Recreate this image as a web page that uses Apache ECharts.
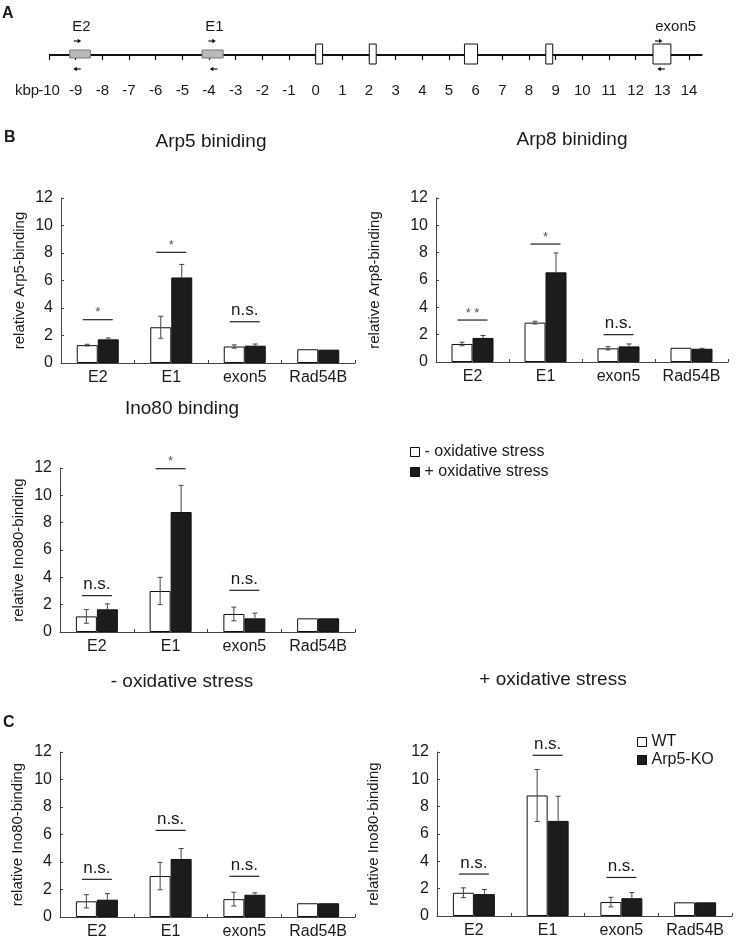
<!DOCTYPE html>
<html>
<head>
<meta charset="utf-8">
<script src="https://cdn.jsdelivr.net/npm/echarts/dist/echarts.min.js"></script>
<style>
  html, body { margin: 0; padding: 0; background: #fff; }
  #main { width: 736px; height: 943px; }
</style>
</head>
<body>
<div id="main"></div>
<script>
// ---- panel A: gene map (kbp) ----
let kbpMin = -10
let kbpMax = 14
let lineEnd = 14.5
let probeBoxes = [[-9.22, -8.45], [-4.26, -3.47]]
let exonBoxes = [[0.0, 0.26], [2.01, 2.27], [5.58, 6.07], [8.63, 8.89], [12.65, 13.32]]
let primerNames = ['E2', 'E1', 'exon5']
let primerFwd = [-9.0, -3.95, 12.8]
let primerRev = [-8.92, -3.8, 12.98]
let primerLabelAt = [-8.78, -3.8, 13.5]

// ---- panels B / C ----
let categories = ['E2', 'E1', 'exon5', 'Rad54B']
let yMax = 12
let yStep = 2

// Arp5 binding
let arp5Minus = [1.3, 2.6, 1.2, 1.0]
let arp5MinusErr = [0.06, 0.8, 0.12, 0]
let arp5Plus = [1.72, 6.22, 1.26, 0.97]
let arp5PlusErr = [0.1, 0.95, 0.12, 0]
let arp5Sig = [[0, 3.15, '*'], [1, 8.05, '*'], [2, 3.0, 'n.s.']]

// Arp8 binding
let arp8Minus = [1.32, 2.88, 1.0, 1.04]
let arp8MinusErr = [0.13, 0.1, 0.12, 0]
let arp8Plus = [1.76, 6.56, 1.14, 0.97]
let arp8PlusErr = [0.18, 1.42, 0.18, 0.03]
let arp8Sig = [[0, 3.07, '* *'], [1, 8.63, '*'], [2, 2.0, 'n.s.']]

// Ino80 binding
let ino80Minus = [1.14, 3.0, 1.32, 1.0]
let ino80MinusErr = [0.5, 1.0, 0.5, 0]
let ino80Plus = [1.66, 8.78, 1.0, 1.0]
let ino80PlusErr = [0.4, 1.95, 0.38, 0]
let ino80Sig = [[0, 2.66, 'n.s.'], [1, 11.95, '*'], [2, 3.05, 'n.s.']]

// C: - oxidative stress
let minusWT = [1.14, 2.98, 1.3, 1.0]
let minusWTErr = [0.48, 1.0, 0.5, 0]
let minusKO = [1.26, 4.22, 1.62, 1.0]
let minusKOErr = [0.44, 0.76, 0.14, 0]
let minusSig = [[0, 2.74, 'n.s.'], [1, 6.3, 'n.s.'], [2, 2.96, 'n.s.']]

// C: + oxidative stress
let plusWT = [1.7, 8.82, 1.02, 1.0]
let plusWTErr = [0.36, 1.9, 0.35, 0]
let plusKO = [1.6, 6.96, 1.3, 1.0]
let plusKOErr = [0.34, 1.8, 0.42, 0]
let plusSig = [[0, 3.07, 'n.s.'], [1, 11.76, 'n.s.'], [2, 2.82, 'n.s.']]

let stressNames = ['- oxidative stress', '+ oxidative stress']
let strainNames = ['WT', 'Arp5-KO']

let font = 'Liberation Sans, Arial, sans-serif'
let ink = '#1a1a1a'
let axisInk = '#444'

let chart = echarts.init(document.getElementById('main'), null, { renderer: 'canvas' })

// gene map pieces
let renderGeneLine = (params, api) => {
  let a = api.coord([api.value(0), 0])
  let b = api.coord([api.value(1), 0])
  return { type: 'line', shape: { x1: a[0], y1: a[1], x2: b[0], y2: b[1] }, style: { stroke: '#111', lineWidth: 2 } }
}

let renderBox = (params, api) => {
  let a = api.coord([api.value(0), 0])
  let b = api.coord([api.value(1), 0])
  let grey = api.value(2) === 0
  let h = grey ? 8 : 20
  return {
    type: 'rect',
    shape: { x: a[0], y: a[1] - h / 2 - 1, width: b[0] - a[0], height: h },
    style: grey ? { fill: '#b9b9b9', stroke: '#777', lineWidth: 1 } : { fill: '#fff', stroke: '#111', lineWidth: 1 }
  }
}

let arrow = (x, y, dir) => {
  let len = 6
  let x2 = x + dir * len
  return [
    { type: 'line', shape: { x1: x, y1: y, x2: x2, y2: y }, style: { stroke: '#111', lineWidth: 1.2 } },
    { type: 'polygon', shape: { points: [[x2 + dir * 1.5, y], [x2 - dir * 2, y - 2.2], [x2 - dir * 2, y + 2.2]] }, style: { fill: '#111' } }
  ]
}

let renderPrimer = (params, api) => {
  let f = api.coord([api.value(0), 0])
  let r = api.coord([api.value(1), 0])
  let l = api.coord([api.value(2), 0])
  let children = []
  children = children.concat(arrow(f[0] - 2, f[1] - 14, 1))
  children = children.concat(arrow(r[0] + 3, r[1] + 14, -1))
  children.push({
    type: 'text',
    style: { text: primerNames[params.dataIndex], x: l[0], y: l[1] - 28, align: 'center', verticalAlign: 'middle', font: '15px ' + font, fill: ink }
  })
  return { type: 'group', children: children }
}

// error bars: [category, value, err, side]
let renderErr = (params, api) => {
  let e = api.value(2)
  if (!e) return
  let side = api.value(3)
  let v = api.value(1)
  let top = api.coord([api.value(0), v + e])
  let bot = api.coord([api.value(0), side < 0 ? v - e : v])
  let x = top[0] + side * 10.5
  let st = { stroke: '#444', lineWidth: 1 }
  let kids = [
    { type: 'line', shape: { x1: x, y1: top[1], x2: x, y2: bot[1] }, style: st },
    { type: 'line', shape: { x1: x - 2.5, y1: top[1], x2: x + 2.5, y2: top[1] }, style: st }
  ]
  if (side < 0) kids.push({ type: 'line', shape: { x1: x - 2.5, y1: bot[1], x2: x + 2.5, y2: bot[1] }, style: st })
  return { type: 'group', children: kids }
}

let makeSig = (sig) => (params, api) => {
  let p = api.coord([api.value(0), api.value(1)])
  let label = sig[params.dataIndex][2]
  let star = label !== 'n.s.'
  return {
    type: 'group',
    children: [
      { type: 'line', shape: { x1: p[0] - 15, y1: p[1], x2: p[0] + 15, y2: p[1] }, style: { stroke: '#222', lineWidth: 1.2 } },
      {
        type: 'text',
        style: {
          text: label, x: p[0], y: star ? p[1] - 7 : p[1] - 11, align: 'center', verticalAlign: 'middle',
          font: (star ? '13px ' : '17px ') + font, fill: star ? '#555' : ink
        }
      }
    ]
  }
}

let panelSeries = (g, names, minus, minusErr, plus, plusErr, sig) => {
  let errData = []
  minus.forEach((v, i) => errData.push([i, v, minusErr[i], -1]))
  plus.forEach((v, i) => errData.push([i, v, plusErr[i], 1]))
  return [
    {
      name: names[0], type: 'bar', xAxisIndex: g, yAxisIndex: g, data: minus,
      barWidth: 21, barGap: '0%',
      itemStyle: { color: '#fff', borderColor: '#111', borderWidth: 1 }
    },
    {
      name: names[1], type: 'bar', xAxisIndex: g, yAxisIndex: g, data: plus,
      barWidth: 21, barGap: '0%',
      itemStyle: { color: '#1c1c1c', borderColor: '#111', borderWidth: 1 }
    },
    { type: 'custom', xAxisIndex: g, yAxisIndex: g, data: errData, renderItem: renderErr, z: 5, silent: true },
    { type: 'custom', xAxisIndex: g, yAxisIndex: g, data: sig.map(s => [s[0], s[1]]), renderItem: makeSig(sig), z: 5, silent: true }
  ]
}

// grids: 0 = gene map, 1..5 = bar panels
let grids = [
  { left: 49, top: 20, width: 640, height: 35 },
  { left: 61, top: 198, width: 294, height: 165 },
  { left: 436, top: 198, width: 292, height: 164 },
  { left: 60, top: 468, width: 295, height: 164 },
  { left: 60, top: 752, width: 295, height: 165 },
  { left: 437, top: 752, width: 295, height: 164 }
]
let yNames = ['relative Arp5-binding', 'relative Arp8-binding', 'relative Ino80-binding', 'relative Ino80-binding', 'relative Ino80-binding']
let yNameGaps = [34, 54, 34, 35, 56]

let xAxes = [{
  type: 'value', gridIndex: 0, min: kbpMin, max: kbpMax, interval: 1,
  axisLine: { show: false },
  axisTick: { show: true, length: 5, lineStyle: { color: '#111', width: 1.2 } },
  axisLabel: { margin: 28, fontSize: 15, color: ink, fontFamily: font },
  splitLine: { show: false }
}]
let yAxes = [{ type: 'value', gridIndex: 0, min: 0, max: 1, show: false }]

for (let g = 1; g <= 5; g++) {
  xAxes.push({
    type: 'category', gridIndex: g, data: categories,
    axisLine: { lineStyle: { color: axisInk, width: 1 } },
    axisTick: { show: true, inside: true, length: 3, lineStyle: { color: axisInk } },
    axisLabel: { interval: 0, margin: 7, fontSize: 16, color: ink, fontFamily: font }
  })
  yAxes.push({
    type: 'value', gridIndex: g, min: 0, max: yMax, interval: yStep,
    name: yNames[g - 1], nameLocation: 'middle', nameGap: yNameGaps[g - 1],
    nameTextStyle: { fontSize: 15, color: ink, fontFamily: font },
    axisLine: { show: true, lineStyle: { color: axisInk, width: 1 } },
    axisTick: { show: true, inside: true, length: 3, lineStyle: { color: axisInk } },
    axisLabel: { margin: 8, fontSize: 16, color: ink, fontFamily: font },
    splitLine: { show: false }
  })
}

let titleStyle = { fontSize: 19, fontWeight: 'normal', color: ink, fontFamily: font }
let letterStyle = { fontSize: 16, fontWeight: 'bold', color: ink, fontFamily: font }

let option = {
  animation: false,
  title: [
    { text: 'A', left: 2, top: 6, padding: 0, textStyle: letterStyle },
    { text: 'B', left: 4, top: 130, padding: 0, textStyle: letterStyle },
    { text: 'C', left: 3, top: 715, padding: 0, textStyle: letterStyle },
    { text: 'Arp5 biniding', left: 211, top: 132, padding: 0, textAlign: 'center', textStyle: titleStyle },
    { text: 'Arp8 biniding', left: 572, top: 130, padding: 0, textAlign: 'center', textStyle: titleStyle },
    { text: 'Ino80 binding', left: 182, top: 399, padding: 0, textAlign: 'center', textStyle: titleStyle },
    { text: '- oxidative stress', left: 182, top: 672, padding: 0, textAlign: 'center', textStyle: titleStyle },
    { text: '+ oxidative stress', left: 553, top: 670, padding: 0, textAlign: 'center', textStyle: titleStyle }
  ],
  graphic: [
    { type: 'text', left: 15, top: 83, style: { text: 'kbp', font: '15px ' + font, fill: ink } }
  ],
  legend: [
    {
      data: stressNames, orient: 'vertical', left: 410, top: 444, padding: 0,
      itemWidth: 9, itemHeight: 9, itemGap: 4, icon: 'rect',
      itemStyle: { borderWidth: 1 },
      textStyle: { fontSize: 16, color: ink, fontFamily: font }
    },
    {
      data: strainNames, orient: 'vertical', left: 637, top: 734, padding: 0,
      itemWidth: 9, itemHeight: 9, itemGap: 2, icon: 'rect',
      itemStyle: { borderWidth: 1 },
      textStyle: { fontSize: 16, color: ink, fontFamily: font }
    }
  ],
  grid: grids,
  xAxis: xAxes,
  yAxis: yAxes,
  series: [
    { type: 'custom', xAxisIndex: 0, yAxisIndex: 0, data: [[kbpMin, lineEnd]], renderItem: renderGeneLine, z: 1, silent: true },
    {
      type: 'custom', xAxisIndex: 0, yAxisIndex: 0, z: 2, silent: true, renderItem: renderBox,
      data: probeBoxes.map(b => [b[0], b[1], 0]).concat(exonBoxes.map(b => [b[0], b[1], 1]))
    },
    {
      type: 'custom', xAxisIndex: 0, yAxisIndex: 0, z: 2, silent: true, renderItem: renderPrimer,
      data: primerFwd.map((f, i) => [f, primerRev[i], primerLabelAt[i]])
    }
  ]
    .concat(panelSeries(1, stressNames, arp5Minus, arp5MinusErr, arp5Plus, arp5PlusErr, arp5Sig))
    .concat(panelSeries(2, stressNames, arp8Minus, arp8MinusErr, arp8Plus, arp8PlusErr, arp8Sig))
    .concat(panelSeries(3, stressNames, ino80Minus, ino80MinusErr, ino80Plus, ino80PlusErr, ino80Sig))
    .concat(panelSeries(4, strainNames, minusWT, minusWTErr, minusKO, minusKOErr, minusSig))
    .concat(panelSeries(5, strainNames, plusWT, plusWTErr, plusKO, plusKOErr, plusSig))
}

chart.setOption(option)
</script>
</body>
</html>
